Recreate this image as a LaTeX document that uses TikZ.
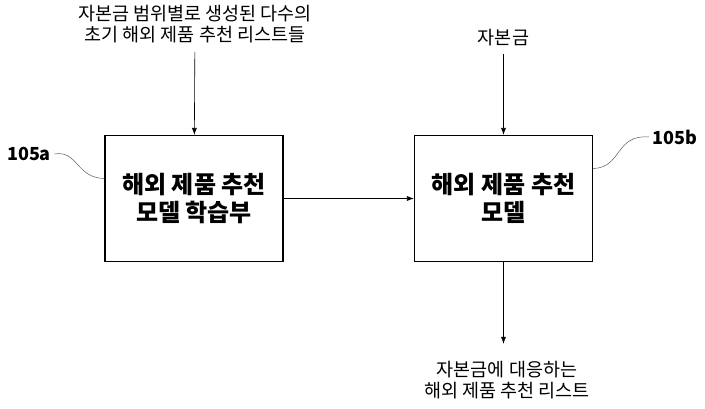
\documentclass[tikz,border=0pt]{standalone}
\usepackage{fontspec}
\setmainfont{Noto Sans CJK KR}
\usepackage{tikz}
\usetikzlibrary{arrows.meta, positioning}

\begin{document}
\begin{tikzpicture}[x=1pt, y=-1pt,
    blockbox/.style={draw, line width=1.1pt, minimum width=178pt, minimum height=126pt, align=center, font=\fontsize{24}{28.5}\selectfont\bfseries},
    plaintxt/.style={align=center, font=\fontsize{18.5}{20.5}\selectfont},
    reflbl/.style={font=\fontsize{18}{20}\selectfont\bfseries},
    flow/.style={-{Latex[length=7pt, width=5pt]}, line width=0.6pt},
    leader/.style={line width=0.5pt, gray!70!black}]
    \useasboundingbox (0,0) rectangle (705,408);
    \node[blockbox] (learner) at (194,198.5) {해외 제품 추천\\모델 학습부};
    \node[blockbox] (model) at (503.5,198.5) {해외 제품 추천\\모델};
    \node[plaintxt] (lists) at (195,24) {자본금 범위별로 생성된 다수의\\초기 해외 제품 추천 리스트들};
    \node[plaintxt] (capital) at (503.5,38) {자본금};
    \node[plaintxt] (result) at (507,380) {자본금에 대응하는\\해외 제품 추천 리스트};
    \node[reflbl] (lbla) at (29,154) {105a};
    \node[reflbl] (lblb) at (675,137) {105b};
    \draw[flow, shorten <=6pt] (lists) -- (learner);
    \draw[flow, shorten <=4pt] (capital) -- (model);
    \draw[flow] (learner) -- (model);
    \draw[flow, shorten >=14pt] (model.south) -- (model.south |- result.north);
    % leader curves for the reference numbers
    \draw[leader] (lbla.east) .. controls (78,150) and (76,178) .. ([yshift=20pt]learner.west);
    \draw[leader] (lblb.west) .. controls (615,134) and (622,168) .. ([yshift=30pt]model.east);
\end{tikzpicture}
\end{document}
